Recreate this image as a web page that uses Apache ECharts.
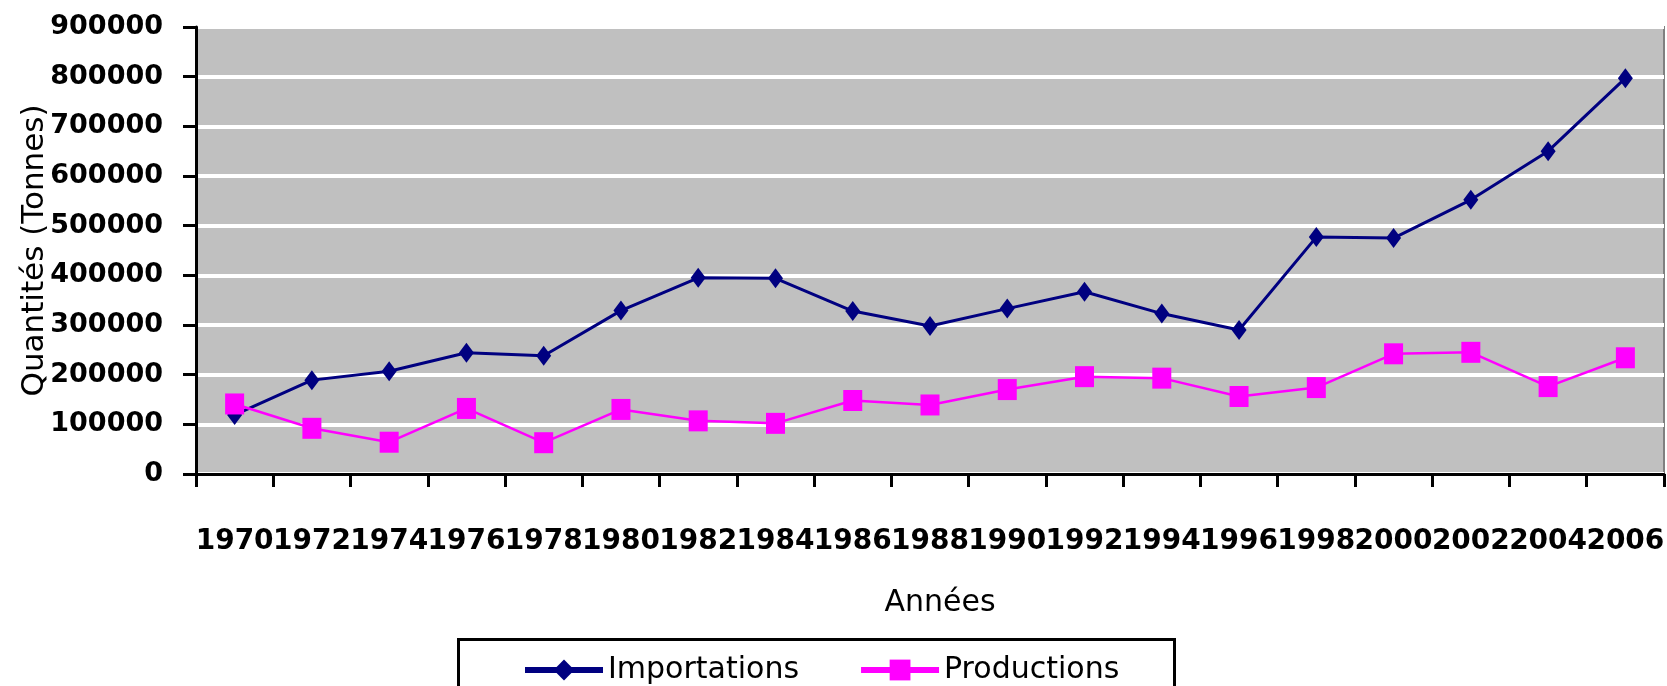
<!DOCTYPE html>
<html>
<head>
<meta charset="utf-8">
<script src="https://cdn.jsdelivr.net/npm/echarts@6/dist/echarts.min.js"></script>
<style>
html,body{margin:0;padding:0;background:#fff;}
#chart{width:1667px;height:686px;}
</style>
</head>
<body>
<div id="chart"></div>
<script>
var years = ['1970','1972','1974','1976','1978','1980','1982','1984','1986','1988','1990','1992','1994','1996','1998','2000','2002','2004','2006'];
var importations = [119000, 189000, 207000, 244000, 238000, 329000, 395000, 394000, 328000, 298000, 333000, 367000, 323000, 290000, 477000, 475000, 552000, 650000, 797000];
var productions = [141000, 92000, 64000, 132000, 63000, 130000, 107000, 102000, 148000, 139000, 170000, 196000, 193000, 156000, 174000, 242000, 245000, 176000, 234000];
var seriesNames = ['Importations', 'Productions'];
var yAxisTitle = 'Quantités (Tonnes)';
var xAxisTitle = 'Années';

var chart = echarts.init(document.getElementById('chart'), null, {renderer: 'canvas'});
var font = 'DejaVu Sans';
chart.setOption({
  animation: false,
  backgroundColor: '#ffffff',
  grid: {
    left: 196, right: 3, top: 27, bottom: 212,
    containLabel: false,
    outerBoundsMode: 'none',
    show: true, backgroundColor: '#C0C0C0', borderColor: '#808080', borderWidth: 2
  },
  xAxis: {
    type: 'category',
    data: years,
    boundaryGap: true,
    name: xAxisTitle,
    nameLocation: 'middle',
    nameGap: 114,
    nameMoveOverlap: false,
    nameTextStyle: {fontFamily: font, fontSize: 30, color: '#000', padding: [0, 0, 0, 20]},
    axisLine: {show: true, lineStyle: {color: '#000', width: 3}},
    axisTick: {show: true, length: 13, lineStyle: {color: '#000', width: 3}},
    axisLabel: {interval: 0, margin: 54, fontFamily: font, fontWeight: 'bold', fontSize: 28, color: '#000'},
    splitLine: {show: false}
  },
  yAxis: {
    type: 'value',
    min: 0, max: 900000, interval: 100000,
    name: yAxisTitle,
    nameLocation: 'middle',
    nameRotate: 90,
    nameGap: 146,
    nameMoveOverlap: false,
    nameTextStyle: {fontFamily: font, fontSize: 31, color: '#000'},
    axisLine: {show: true, lineStyle: {color: '#000', width: 3}},
    axisTick: {show: true, length: 13, lineStyle: {color: '#000', width: 3}},
    axisLabel: {margin: 33, fontFamily: font, fontWeight: 'bold', fontSize: 27, color: '#000',
      formatter: function (v) { return String(v); }},
    splitLine: {show: true, lineStyle: {color: '#ffffff', width: 4}}
  },
  legend: {
    left: 522, top: 655,
    itemGap: 59, itemWidth: 78, itemHeight: 26,
    padding: 0,
    textStyle: {fontFamily: font, fontSize: 30, color: '#000'},
    lineStyle: {width: 6},
    data: seriesNames
  },
  graphic: [{
    type: 'rect',
    left: 457, top: 638,
    shape: {width: 716, height: 70},
    style: {fill: 'transparent', stroke: '#000', lineWidth: 3},
    silent: true, z: 100
  }],
  series: [
    {
      name: seriesNames[0], type: 'line', data: importations,
      symbol: 'diamond', symbolSize: [15, 20],
      itemStyle: {color: '#000080'},
      lineStyle: {color: '#000080', width: 3}
    },
    {
      name: seriesNames[1], type: 'line', data: productions,
      symbol: 'rect', symbolSize: [19, 21],
      itemStyle: {color: '#FF00FF'},
      lineStyle: {color: '#FF00FF', width: 2.5}
    }
  ]
});
</script>
</body>
</html>
